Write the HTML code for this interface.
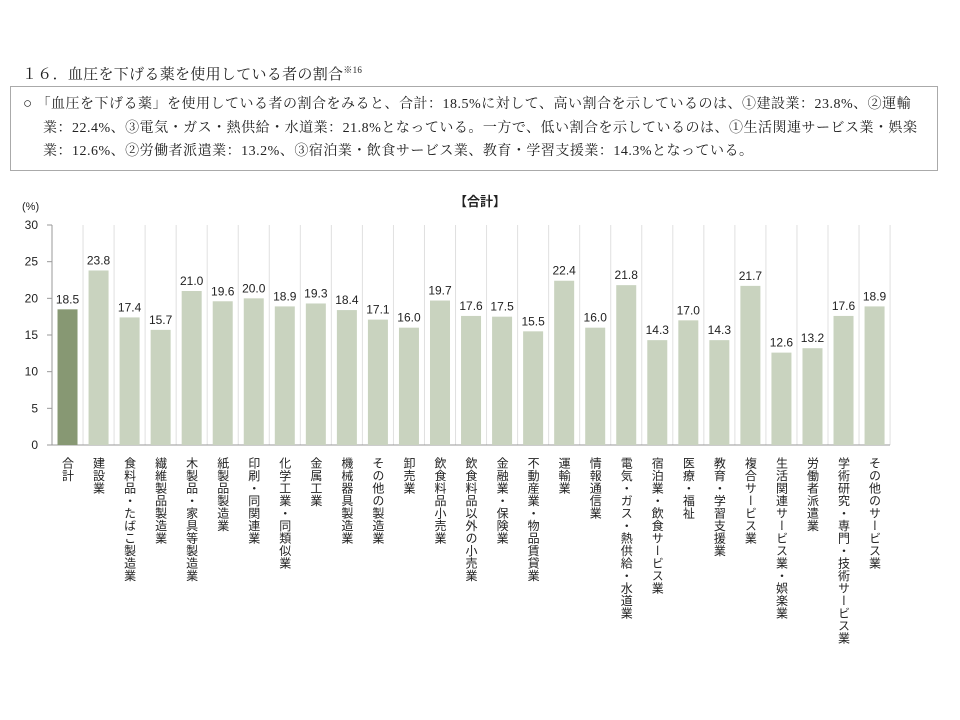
<!DOCTYPE html>
<html><head><meta charset="utf-8"><style>
body{margin:0;width:960px;height:720px;background:#fff;position:relative;overflow:hidden;font-family:"Liberation Sans","Noto Sans CJK JP",sans-serif;color:#222}
.t{position:absolute;left:22px;top:63px;font-size:15px;font-family:"Liberation Serif","Noto Serif CJK SC",serif;letter-spacing:0.3px}
.box{position:absolute;left:10px;top:86px;width:928px;height:85px;border:1px solid #aaa;box-sizing:border-box;font-family:"Liberation Serif","Noto Serif CJK SC",serif;font-size:14px;line-height:23.5px;padding:6px 4px 0 12px;color:#222;white-space:nowrap;letter-spacing:0.5px}
.lab{position:absolute;top:457px;writing-mode:vertical-rl;font-size:12px;line-height:14px;letter-spacing:0.5px;color:#222}
</style></head><body>
<div class="t">１６．血圧を下げる薬を使用している者の割合<sup style="font-size:9px">※16</sup></div>
<div class="box"><span style="font-size:15px">○</span> 「血圧を下げる薬」を使用している者の割合をみると、合計：18.5%に対して、高い割合を示しているのは、①建設業：23.8%、②運輸<br>&nbsp;&nbsp;&nbsp;&nbsp;&nbsp;業：22.4%、③電気・ガス・熱供給・水道業：21.8%となっている。一方で、低い割合を示しているのは、①生活関連サービス業・娯楽<br>&nbsp;&nbsp;&nbsp;&nbsp;&nbsp;業：12.6%、②労働者派遣業：13.2%、③宿泊業・飲食サービス業、教育・学習支援業：14.3%となっている。</div>
<svg width="960" height="720" style="position:absolute;left:0;top:0" font-family="Liberation Sans, Noto Sans CJK JP, sans-serif">
<text x="480" y="206" font-size="13" font-weight="bold" text-anchor="middle" fill="#222">【合計】</text>
<text x="22" y="210" font-size="11" fill="#222">(%)</text>
<g id="g"></g>
</svg>
<div id="labs"></div>
<script>
var v=[18.5,23.8,17.4,15.7,21.0,19.6,20.0,18.9,19.3,18.4,17.1,16.0,19.7,17.6,17.5,15.5,22.4,16.0,21.8,14.3,17.0,14.3,21.7,12.6,13.2,17.6,18.9];
var n=["合計","建設業","食料品・たばこ製造業","繊維製品製造業","木製品・家具等製造業","紙製品製造業","印刷・同関連業","化学工業・同類似業","金属工業","機械器具製造業","その他の製造業","卸売業","飲食料品小売業","飲食料品以外の小売業","金融業・保険業","不動産業・物品賃貸業","運輸業","情報通信業","電気・ガス・熱供給・水道業","宿泊業・飲食サービス業","医療・福祉","教育・学習支援業","複合サービス業","生活関連サービス業・娯楽業","労働者派遣業","学術研究・専門・技術サービス業","その他のサービス業"];
var x0=52,w=31.04,y0=445,s=7.333,h='';
for(var i=0;i<=27;i++){var x=x0+i*w;h+='<line x1="'+x+'" y1="225" x2="'+x+'" y2="445" stroke="#e0e0e0" stroke-width="1"/>';}
for(var k=0;k<=6;k++){var y=y0-k*5*s;h+='<line x1="47" y1="'+y+'" x2="52" y2="'+y+'" stroke="#999"/><text x="38" y="'+(y+4)+'" font-size="12" text-anchor="end" fill="#222">'+(k*5)+'</text>';}
h+='<line x1="52" y1="225" x2="52" y2="445" stroke="#999"/><line x1="52" y1="445" x2="890" y2="445" stroke="#999"/>';
var L='';
for(var i=0;i<27;i++){var c=x0+i*w+w/2,t=y0-v[i]*s;
h+='<rect x="'+(c-10)+'" y="'+t+'" width="20" height="'+(y0-t)+'" fill="'+(i?'#c9d3bf':'#879873')+'"/>';
h+='<text x="'+c+'" y="'+(t-6)+'" font-size="12" text-anchor="middle" fill="#222">'+v[i].toFixed(1)+'</text>';
L+='<div class="lab" style="left:'+(c-7)+'px">'+n[i]+'</div>';}
document.getElementById('g').innerHTML=h;document.getElementById('labs').innerHTML=L;
</script>
</body></html>
